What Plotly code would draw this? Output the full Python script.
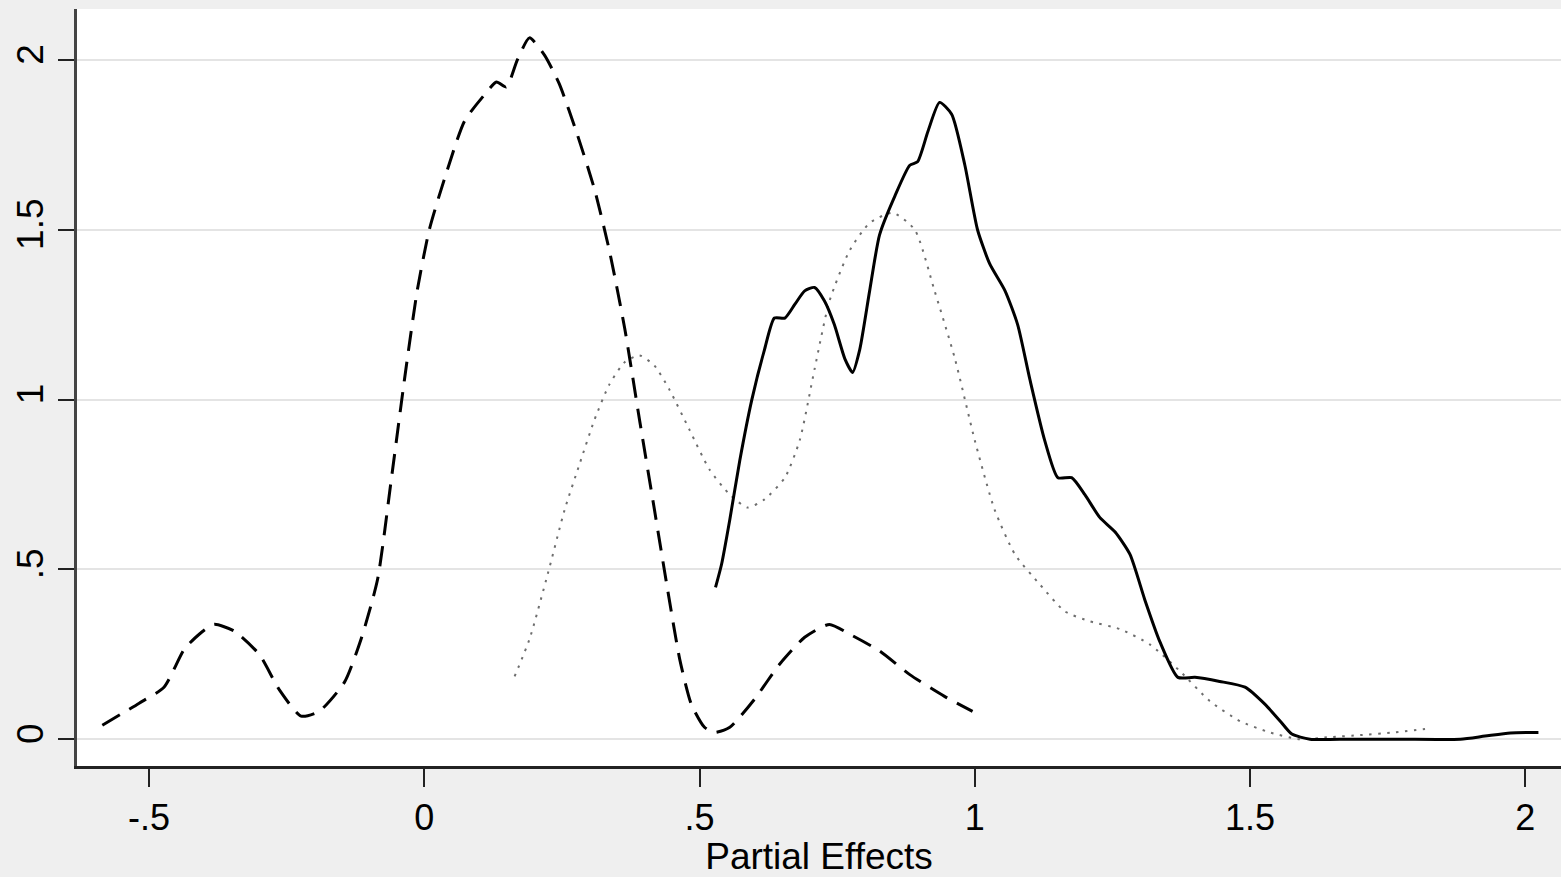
import plotly.graph_objects as go

# Dashed curve (kernel density, black long dashes)
dash_x = [-0.585, -0.518, -0.473, -0.436, -0.409, -0.382, -0.345, -0.300, -0.264, -0.224,
          -0.191, -0.145, -0.115, -0.085, -0.060, -0.036, -0.013, 0.009, 0.036, 0.073,
          0.109, 0.131, 0.149, 0.169, 0.191, 0.218, 0.245, 0.278, 0.309, 0.336,
          0.364, 0.391, 0.418, 0.442, 0.464, 0.485, 0.509, 0.527, 0.555, 0.600,
          0.645, 0.691, 0.736, 0.773, 0.827, 0.882, 0.945, 0.996]
dash_y = [0.041, 0.106, 0.153, 0.265, 0.309, 0.338, 0.318, 0.250, 0.147, 0.068,
          0.082, 0.168, 0.294, 0.470, 0.765, 1.060, 1.320, 1.500, 1.647, 1.820,
          1.897, 1.935, 1.920, 2.000, 2.065, 2.015, 1.930, 1.780, 1.620, 1.440,
          1.210, 0.940, 0.676, 0.440, 0.235, 0.103, 0.035, 0.020, 0.035, 0.118,
          0.220, 0.300, 0.338, 0.309, 0.260, 0.190, 0.126, 0.082]

# Dotted curve (gray)
dot_x = [0.164, 0.191, 0.224, 0.255, 0.282, 0.309, 0.336, 0.364, 0.391, 0.418,
         0.445, 0.482, 0.518, 0.555, 0.587, 0.618, 0.655, 0.682, 0.709, 0.736,
         0.773, 0.809, 0.851, 0.891, 0.927, 0.964, 1.000, 1.036, 1.073, 1.118,
         1.164, 1.209, 1.264, 1.318, 1.373, 1.427, 1.482, 1.536, 1.590, 1.645,
         1.700, 1.764, 1.818]
dot_y = [0.185, 0.294, 0.485, 0.676, 0.810, 0.940, 1.044, 1.110, 1.130, 1.100,
         1.030, 0.910, 0.794, 0.720, 0.682, 0.706, 0.770, 0.880, 1.090, 1.290,
         1.440, 1.520, 1.550, 1.500, 1.320, 1.120, 0.880, 0.676, 0.544, 0.456,
         0.376, 0.347, 0.324, 0.279, 0.200, 0.112, 0.053, 0.020, 0.000, 0.006,
         0.012, 0.020, 0.030]

# Solid curve (black)
solid_x = [0.529, 0.540, 0.555, 0.573, 0.595, 0.618, 0.636, 0.655, 0.673, 0.691,
           0.709, 0.727, 0.745, 0.764, 0.778, 0.791, 0.809, 0.827, 0.855, 0.882,
           0.896, 0.915, 0.936, 0.958, 0.982, 1.005, 1.027, 1.055, 1.078, 1.100,
           1.127, 1.151, 1.176, 1.200, 1.227, 1.255, 1.282, 1.309, 1.336, 1.369,
           1.400, 1.445, 1.491, 1.527, 1.555, 1.576, 1.609, 1.682, 1.773, 1.882,
           1.927, 1.973, 2.024]
solid_y = [0.447, 0.515, 0.647, 0.820, 1.000, 1.147, 1.240, 1.240, 1.280, 1.320,
           1.330, 1.290, 1.220, 1.120, 1.080, 1.147, 1.320, 1.485, 1.600, 1.690,
           1.700, 1.790, 1.875, 1.840, 1.690, 1.500, 1.400, 1.320, 1.220, 1.060,
           0.880, 0.770, 0.770, 0.720, 0.653, 0.610, 0.544, 0.410, 0.288, 0.182,
           0.182, 0.170, 0.153, 0.103, 0.053, 0.015, 0.000, 0.000, 0.000, 0.000,
           0.009, 0.018, 0.020]

x_tickvals = [-0.5, 0, 0.5, 1, 1.5, 2]
x_ticktext = ["-.5", "0", ".5", "1", "1.5", "2"]
y_tickvals = [0, 0.5, 1, 1.5, 2]
y_ticktext = ["0", ".5", "1", "1.5", "2"]

fig = go.Figure()
fig.add_trace(go.Scatter(x=dash_x, y=dash_y, mode="lines",
                         line=dict(color="black", width=3, dash="20px,11px", shape="spline", smoothing=0.6),
                         showlegend=False))
fig.add_trace(go.Scatter(x=dot_x, y=dot_y, mode="lines",
                         line=dict(color="#6e6e6e", width=2, dash="2.5px,6.5px", shape="spline", smoothing=0.6),
                         showlegend=False))
fig.add_trace(go.Scatter(x=solid_x, y=solid_y, mode="lines",
                         line=dict(color="black", width=3, shape="spline", smoothing=0.6),
                         showlegend=False))

font_family = "Liberation Sans, Arial, sans-serif"
fig.update_layout(
    width=1561, height=877,
    margin=dict(l=77, r=0, t=9, b=111),
    paper_bgcolor="#efefef",
    plot_bgcolor="white",
    font=dict(family=font_family, color="black", size=36),
    xaxis=dict(range=[-0.631, 2.065], tickvals=x_tickvals, ticktext=x_ticktext,
               showgrid=False, zeroline=False, showline=True, linecolor="#222", linewidth=2.5,
               ticks="outside", ticklen=18, tickwidth=2, tickcolor="#222",
               tickfont=dict(size=36), fixedrange=True,
               title=dict(text="Partial Effects", font=dict(size=37), standoff=0)),
    yaxis=dict(range=[-0.079, 2.15], tickvals=y_tickvals, ticktext=y_ticktext,
               showgrid=True, gridcolor="#e4e4e4", gridwidth=2, zeroline=False,
               showline=True, linecolor="#444", linewidth=2.5,
               ticks="outside", ticklen=16, tickwidth=2, tickcolor="#222",
               tickangle=-90, tickfont=dict(size=37), fixedrange=True),
)

fig.write_html("out.html")
